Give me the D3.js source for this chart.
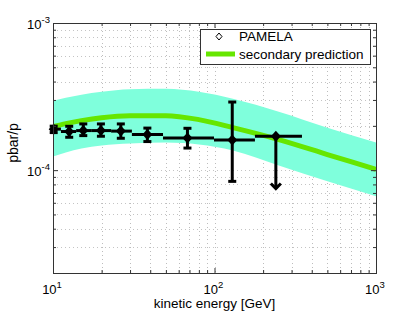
<!DOCTYPE html>
<html>
<head>
<meta charset="utf-8">
<script src="https://cdn.jsdelivr.net/npm/d3@7"></script>
<style>
  body { margin: 0; background: #fff; }
  text { font-family: "Liberation Sans", Arial, sans-serif; fill: #000; }
</style>
</head>
<body>
<div id="chart"></div>
<script>
// PAMELA points (kinetic energy in GeV, pbar/p ratio)
var energy  = [10.1, 12.6, 15.4, 19.8, 26.3, 38.4, 68.0, 128.8, 239.8];
var ratio   = [1.90e-4, 1.83e-4, 1.857e-4, 1.857e-4, 1.842e-4, 1.744e-4, 1.657e-4, 1.601e-4, 1.70e-4];
var errHigh = [1.99e-4, 1.986e-4, 2.061e-4, 2.061e-4, 2.061e-4, 1.931e-4, 1.925e-4, 2.904e-4, null];
var errLow  = [1.80e-4, 1.673e-4, 1.717e-4, 1.70e-4, 1.647e-4, 1.564e-4, 1.413e-4, 8.39e-5, 7.5e-5];
var binLow  = [10, 11.2, 13.9, 17.4, 22.9, 30.8, 48.0, 99.3, 178];
var binHigh = [11.2, 13.9, 17.4, 22.9, 30.8, 48.0, 99.3, 178, 348];
var upperLimit = [false, false, false, false, false, false, false, false, true];

// secondary prediction and its uncertainty band
var modelE    = [10, 12, 15, 20, 30, 50, 80, 130, 250, 500, 1000];
var modelMid  = [1.976e-4, 2.07e-4, 2.17e-4, 2.274e-4, 2.346e-4, 2.346e-4, 2.205e-4, 1.945e-4, 1.613e-4, 1.277e-4, 1.011e-4];
var modelHigh = [2.963e-4, 3.106e-4, 3.254e-4, 3.41e-4, 3.546e-4, 3.573e-4, 3.41e-4, 3.058e-4, 2.496e-4, 1.945e-4, 1.54e-4];
var modelLow  = [1.238e-4, 1.317e-4, 1.402e-4, 1.469e-4, 1.516e-4, 1.54e-4, 1.493e-4, 1.359e-4, 1.076e-4, 8.39e-5, 6.64e-5];

// ticks
var xMajor = [10, 100, 1000];
var xMajorExp = ['1', '2', '3'];
var xMinor = [20, 30, 40, 50, 60, 70, 80, 90, 200, 300, 400, 500, 600, 700, 800, 900];
var yMajor = [1e-4, 1e-3];
var yMajorExp = ['-4', '-3'];
var yMinor = [2e-5, 3e-5, 4e-5, 5e-5, 6e-5, 7e-5, 8e-5, 9e-5, 2e-4, 3e-4, 4e-4, 5e-4, 6e-4, 7e-4, 8e-4, 9e-4];

var legendLabels = ['PAMELA', 'secondary prediction'];

var W = 415, H = 312;
var margin = { top: 23, right: 39, bottom: 39, left: 53 };
var width = W - margin.left - margin.right,
    height = H - margin.top - margin.bottom;

var x = d3.scaleLog().domain([10, 1000]).range([0, width]);
var y = d3.scaleLog().domain([2e-5, 1e-3]).range([height, 0]);

var svg = d3.select('#chart').append('svg')
  .attr('width', W)
  .attr('height', H);

var g = svg.append('g')
  .attr('transform', 'translate(' + margin.left + ',' + margin.top + ')');

g.append('clipPath').attr('id', 'plotclip')
  .append('rect').attr('width', width).attr('height', height);

// GRID
var allX = xMinor.concat(xMajor), allY = yMinor.concat(yMajor);
g.append('g').selectAll('line')
  .data(allX).enter().append('line')
  .attr('x1', function(d) { return Math.round(x(d)) + 0.5; })
  .attr('x2', function(d) { return Math.round(x(d)) + 0.5; })
  .attr('y1', 0).attr('y2', height)
  .attr('stroke', '#bdbdbd')
  .attr('stroke-dasharray', '1,3');
g.append('g').selectAll('line')
  .data(allY).enter().append('line')
  .attr('y1', function(d) { return Math.round(y(d)) + 0.5; })
  .attr('y2', function(d) { return Math.round(y(d)) + 0.5; })
  .attr('x1', 0).attr('x2', width)
  .attr('stroke', '#c4c4c4')
  .attr('stroke-dasharray', '1,3');

// BAND + LINE
var plot = g.append('g').attr('clip-path', 'url(#plotclip)');
var band = d3.area()
  .x(function(d, i) { return x(modelE[i]); })
  .y0(function(d, i) { return y(modelLow[i]); })
  .y1(function(d, i) { return y(modelHigh[i]); })
  .curve(d3.curveMonotoneX);
plot.append('path')
  .datum(modelE)
  .attr('d', band)
  .attr('fill', '#7fffdc');

var line = d3.line()
  .x(function(d, i) { return x(modelE[i]); })
  .y(function(d, i) { return y(modelMid[i]); })
  .curve(d3.curveMonotoneX);
plot.append('path')
  .datum(modelE)
  .attr('d', line)
  .attr('fill', 'none')
  .attr('stroke', '#66e600')
  .attr('stroke-width', 5);

// DATA
var pts = energy.map(function(e, i) {
  return { e: e, v: ratio[i], hi: errHigh[i], lo: errLow[i], bl: binLow[i], bh: binHigh[i], ul: upperLimit[i] };
});
var bars = g.append('g')
  .attr('stroke', '#000')
  .attr('stroke-width', 3)
  .attr('fill', 'none');
var cap = 4;
pts.forEach(function(p) {
  var px = x(p.e), py = y(p.v);
  bars.append('line')
    .attr('x1', x(p.bl)).attr('x2', x(p.bh))
    .attr('y1', py).attr('y2', py);
  if (p.ul) {
    var yl = y(p.lo);
    bars.append('line')
      .attr('x1', px).attr('x2', px)
      .attr('y1', py).attr('y2', yl);
    bars.append('path')
      .attr('d', 'M' + (px - 5) + ',' + (yl - 5) + 'L' + px + ',' + yl + 'L' + (px + 5) + ',' + (yl - 5));
  } else {
    var yh = y(p.hi), yl2 = y(p.lo);
    bars.append('line')
      .attr('x1', px).attr('x2', px)
      .attr('y1', yh).attr('y2', yl2);
    bars.append('line')
      .attr('x1', px - cap).attr('x2', px + cap)
      .attr('y1', yh).attr('y2', yh);
    bars.append('line')
      .attr('x1', px - cap).attr('x2', px + cap)
      .attr('y1', yl2).attr('y2', yl2);
  }
});
var diamond = 'M0,-5.5L5,0L0,5.5L-5,0Z';
g.append('g').selectAll('path')
  .data(pts).enter().append('path')
  .attr('d', diamond)
  .attr('transform', function(d) { return 'translate(' + x(d.e) + ',' + y(d.v) + ')'; })
  .attr('fill', '#000');

// AXES (ticks inward on all four sides)
var axes = [
  { ax: d3.axisBottom, tr: 'translate(0,' + height + ')', sc: x, major: xMajor, minor: xMinor },
  { ax: d3.axisTop, tr: 'translate(0,0)', sc: x, major: xMajor, minor: xMinor },
  { ax: d3.axisLeft, tr: 'translate(0,0)', sc: y, major: yMajor, minor: yMinor },
  { ax: d3.axisRight, tr: 'translate(' + width + ',0)', sc: y, major: yMajor, minor: yMinor }
];
axes.forEach(function(a) {
  var gm = g.append('g').attr('transform', a.tr)
    .call(a.ax(a.sc).tickValues(a.minor).tickSize(-3).tickSizeOuter(0).tickFormat(''));
  gm.select('.domain').remove();
  var gM = g.append('g').attr('transform', a.tr)
    .call(a.ax(a.sc).tickValues(a.major).tickSize(-5).tickSizeOuter(0).tickFormat(''));
  gM.select('.domain').remove();
});
g.selectAll('.tick line').attr('stroke', '#333');

g.append('rect')
  .attr('x', 0.5).attr('y', 0.5)
  .attr('width', width).attr('height', height)
  .attr('fill', 'none')
  .attr('stroke', '#333')
  .attr('stroke-width', 1);

// TICK LABELS
function powLabel(sel, exp) {
  sel.append('tspan').text('10');
  sel.append('tspan').attr('dy', -6).style('font-size', '9.5px').text(exp);
}
xMajor.forEach(function(d, i) {
  var t = g.append('text')
    .attr('x', x(d) - 1)
    .attr('y', height + 21)
    .attr('text-anchor', 'middle')
    .style('font-size', '13px');
  powLabel(t, xMajorExp[i]);
});
yMajor.forEach(function(d, i) {
  var t = g.append('text')
    .attr('x', -3)
    .attr('y', y(d) + 6)
    .attr('text-anchor', 'end')
    .style('font-size', '13px');
  powLabel(t, yMajorExp[i]);
});

g.append('text')
  .attr('x', width / 2)
  .attr('y', height + 35)
  .attr('text-anchor', 'middle')
  .style('font-size', '13.5px')
  .text('kinetic energy [GeV]');

g.append('text')
  .attr('transform', 'translate(' + (-35) + ',' + (height / 2 - 5) + ') rotate(-90)')
  .attr('text-anchor', 'middle')
  .style('font-size', '14px')
  .text('pbar/p');

// LEGEND
var lg = svg.append('g').attr('transform', 'translate(200,29)');
lg.append('rect')
  .attr('x', 0.5).attr('y', 0.5)
  .attr('width', 170).attr('height', 35)
  .attr('fill', '#fff')
  .attr('stroke', '#333');
lg.append('path')
  .attr('d', 'M0,-3.5L3,0L0,3.5L-3,0Z')
  .attr('transform', 'translate(19,7.5)')
  .attr('fill', '#fff')
  .attr('stroke', '#000');
lg.append('line')
  .attr('x1', 6).attr('x2', 35)
  .attr('y1', 25).attr('y2', 25)
  .attr('stroke', '#66e600')
  .attr('stroke-width', 5);
lg.selectAll('text.lab')
  .data(legendLabels).enter().append('text')
  .attr('class', 'lab')
  .attr('x', 39)
  .attr('y', function(d, i) { return 12 + i * 17.5; })
  .style('font-size', '13.5px')
  .text(function(d) { return d; });
</script>
</body>
</html>
